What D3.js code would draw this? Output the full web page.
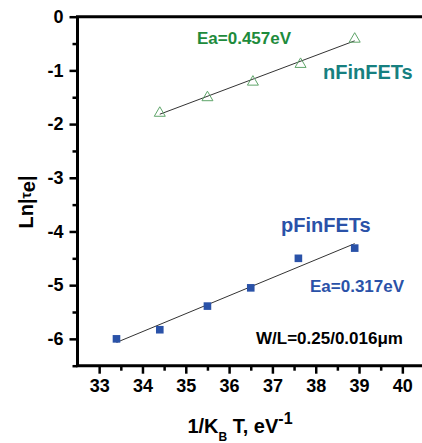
<!DOCTYPE html>
<html>
<head>
<meta charset="utf-8">
<script src="https://cdn.jsdelivr.net/npm/d3@7"></script>
<style>
body { margin: 0; background: #fff; }
text { font-family: "Liberation Sans", Arial, sans-serif; font-weight: bold; }
</style>
</head>
<body>
<script>
var width = 422,
    height = 443;

// data
var nX = [34.4, 35.5, 36.55, 37.65, 38.9],
    nY = [-1.78, -1.49, -1.2, -0.87, -0.40];
var pX = [33.4, 34.4, 35.5, 36.5, 37.6, 38.9],
    pY = [-6.0, -5.83, -5.39, -5.05, -4.5, -4.31];
var xTicks = [33, 34, 35, 36, 37, 38, 39, 40],
    xMinor = [33.5, 34.5, 35.5, 36.5, 37.5, 38.5, 39.5],
    yTicks = [0, -1, -2, -3, -4, -5, -6],
    yMinor = [-0.5, -1.5, -2.5, -3.5, -4.5, -5.5, -6.5];

var x = d3.scaleLinear().domain([32.5, 40.5]).range([77.5, 424]),
    y = d3.scaleLinear().domain([-6.5, 0]).range([365.7, 16.7]);

var svg = d3.select("body").append("svg")
    .attr("width", width)
    .attr("height", height);

// least squares line through a series
function fit(xs, ys) {
    var mx = d3.mean(xs), my = d3.mean(ys), sxy = 0, sxx = 0;
    xs.forEach(function(v, i) { sxy += (v - mx) * (ys[i] - my); sxx += (v - mx) * (v - mx); });
    var b = sxy / sxx, a = my - b * mx;
    var x0 = d3.min(xs), x1 = d3.max(xs);
    return [[x0, a + b * x0], [x1, a + b * x1]];
}

var line = d3.line().x(function(d) { return x(d[0]); }).y(function(d) { return y(d[1]); });

// axes
svg.append("g").attr("transform", "translate(0," + y(-6.5) + ")")
    .call(d3.axisBottom(x).tickValues(xTicks).tickSize(8).tickPadding(6)
        .tickFormat(function(d) { return String(d); }));
svg.append("g").attr("transform", "translate(0," + y(-6.5) + ")")
    .call(d3.axisBottom(x).tickValues(xMinor).tickSize(5).tickFormat(""));
svg.append("g").attr("transform", "translate(" + x(32.5) + ",0)")
    .call(d3.axisLeft(y).tickValues(yTicks).tickSize(8).tickPadding(6)
        .tickFormat(function(d) { return String(d); }));
svg.append("g").attr("transform", "translate(" + x(32.5) + ",0)")
    .call(d3.axisLeft(y).tickValues(yMinor).tickSize(5).tickFormat(""));

svg.selectAll(".domain").remove();
svg.selectAll(".tick line").attr("stroke", "#000").attr("stroke-width", 2.5);
svg.selectAll(".tick text").attr("font-size", 18).attr("fill", "#000")
    .style("font-family", "'Liberation Sans', Arial, sans-serif").style("font-weight", "bold");

// frame
svg.append("path")
    .attr("d", "M" + x(40.5) + "," + y(0) + "H" + x(32.5) + "V" + y(-6.5) + "H" + x(40.5))
    .attr("fill", "none").attr("stroke", "#000").attr("stroke-width", 3);

// fit lines
svg.append("path").attr("d", line(fit(nX, nY)))
    .attr("fill", "none").attr("stroke", "#333").attr("stroke-width", 1);
svg.append("path").attr("d", line(fit(pX, pY)))
    .attr("fill", "none").attr("stroke", "#333").attr("stroke-width", 1);

// nFinFET triangles
svg.selectAll(".tri").data(nX).enter().append("path")
    .attr("class", "tri")
    .attr("transform", function(d, i) { return "translate(" + x(d) + "," + y(nY[i]) + ")"; })
    .attr("d", "M0,-5.5L5.5,4L-5.5,4Z")
    .attr("fill", "none").attr("stroke", "#5fa56a").attr("stroke-width", 1);

// pFinFET squares
svg.selectAll(".sq").data(pX).enter().append("rect")
    .attr("class", "sq")
    .attr("x", function(d) { return x(d) - 3.8; })
    .attr("y", function(d, i) { return y(pY[i]) - 3.8; })
    .attr("width", 7.6).attr("height", 7.6)
    .attr("fill", "#2a52a8");

// annotations
svg.append("text").attr("x", 197).attr("y", 43.5).attr("font-size", 17)
    .attr("fill", "#1e8b3c").text("Ea=0.457eV");
svg.append("text").attr("x", 323).attr("y", 79).attr("font-size", 20)
    .attr("fill", "#178080").text("nFinFETs");
svg.append("text").attr("x", 281).attr("y", 232).attr("font-size", 20)
    .attr("fill", "#2a52a8").text("pFinFETs");
svg.append("text").attr("x", 310).attr("y", 291.7).attr("font-size", 17)
    .attr("fill", "#2a52a8").text("Ea=0.317eV");
svg.append("text").attr("x", 256).attr("y", 344).attr("font-size", 17)
    .attr("fill", "#000").text("W/L=0.25/0.016\u03bcm");

// axis titles
var yt = svg.append("text").attr("transform", "translate(33,202) rotate(-90)")
    .attr("text-anchor", "middle").attr("font-size", 20).attr("fill", "#000");
yt.append("tspan").text("Ln|");
yt.append("tspan").attr("font-size", 14).attr("dy", -2).text("\u03c4");
yt.append("tspan").attr("dy", 4).text("e");
yt.append("tspan").attr("dy", -2).text("|");

var xt = svg.append("text").attr("x", 240).attr("y", 432.7)
    .attr("text-anchor", "middle").attr("font-size", 20).attr("fill", "#000");
xt.append("tspan").text("1/K");
xt.append("tspan").attr("font-size", 12).attr("dy", 8).text("B");
xt.append("tspan").attr("dy", -8).text(" T, eV");
xt.append("tspan").attr("font-size", 16).attr("dy", -9).text("-1");
</script>
</body>
</html>
